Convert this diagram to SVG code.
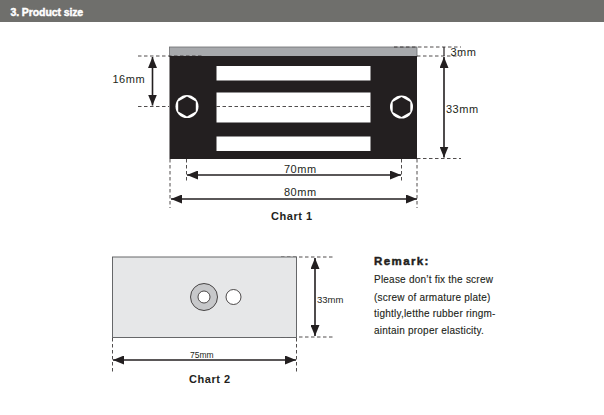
<svg xmlns="http://www.w3.org/2000/svg" width="604" height="415" viewBox="0 0 604 415">
<style>
text{font-family:"Liberation Sans",Arial,sans-serif;fill:#231f20}
.d{font-size:11px;letter-spacing:.5px}
.h{font-weight:bold;font-size:11px;letter-spacing:.55px}
.r{font-size:10px;letter-spacing:.22px;stroke:#231f20;stroke-width:.12}
.dash{fill:none;stroke:#231f20;stroke-width:.8;stroke-dasharray:3.500 2.500}
.dim{fill:none;stroke:#231f20;stroke-width:1.600;marker-start:url(#a);marker-end:url(#a)}
.slot{fill:#fff}
</style>
<defs>
<marker id="a" viewBox="0 0 11 9" refX="11" refY="4.500" markerUnits="userSpaceOnUse" markerWidth="11" markerHeight="9" orient="auto-start-reverse"><path d="M0 0L11 4.500L0 9Z" fill="#231f20"/></marker>
</defs>
<rect width="604" height="415" fill="#fff"/>
<g id="header">
<rect x="0" y="0" width="604" height="22" fill="#6f6f6c"/>
<text x="10.500" y="16" style="fill:#fff;font-size:10.500px;font-weight:bold;letter-spacing:-.1px;stroke:#fff;stroke-width:.45">3. Product size</text>
</g>
<g id="chart1-body">
<rect x="169.500" y="47" width="247.500" height="9.500" fill="#a7a9ac" stroke="#6d6e71" stroke-width=".8"/>
<rect x="169.500" y="56" width="247.500" height="103" fill="#231f20"/>
<rect class="slot" x="216.500" y="66" width="154" height="14.500"/>
<rect class="slot" x="216.500" y="92.500" width="154" height="30"/>
<rect class="slot" x="216.500" y="136.500" width="154" height="14.500"/>
</g>
<g id="bolt-left">
<circle cx="187" cy="106.500" r="11.500" fill="#fff"/>
<polygon fill="#231f20" points="187,96.400 195.800,101.400 195.800,111.600 187,116.600 178.200,111.600 178.200,101.400"/>
</g>
<g id="bolt-right">
<circle cx="401.500" cy="107" r="11.500" fill="#fff"/>
<polygon fill="#231f20" points="401.500,96.900 410.300,101.900 410.300,112.100 401.500,117.100 392.700,112.100 392.700,101.900"/>
</g>
<g id="connectors">
<path class="dash" d="M138 56H203M138 106.500H169M216.500 106.500H370.500M394 47H461M417 56H461M417 158.500H461"/>
<path class="dash" d="M186.500 159V181M401.500 159V181M170 159V208M417 159V208"/>
<path class="dim" d="M152.500 57V105.500"/>
<path class="dim" d="M444 57V157.500"/>
<path d="M444 47V56" fill="none" stroke="#231f20" stroke-width="1.200"/>
<path class="dim" d="M187 175H401"/>
<path class="dim" d="M171 199H417"/>
<path class="dash" d="M281 257H335M281 337H335M112.500 338V372M296.500 338V372"/>
<path class="dim" d="M315 258V336"/>
<path class="dim" d="M113 360H296"/>
</g>
<g id="dim-labels">
<text class="d" x="112.500" y="83">16mm</text>
<text class="d" x="450.500" y="56">3mm</text>
<text class="d" x="446" y="113">33mm</text>
<text class="d" x="284" y="173">70mm</text>
<text class="d" x="284" y="196">80mm</text>
<text class="h" x="271" y="220">Chart 1</text>
<text x="317" y="303" style="font-size:9.500px">33mm</text>
<text x="190" y="358" style="font-size:8.500px">75mm</text>
<text class="h" x="189" y="383">Chart 2</text>
</g>
<g id="chart2-body">
<rect x="112.500" y="257" width="184" height="80.500" fill="#e6e7e8" stroke="#58595b" stroke-width=".9"/>
<circle cx="204" cy="297" r="13.500" fill="#c7c8ca" stroke="#231f20" stroke-width=".8"/>
<circle cx="204" cy="297" r="6" fill="#fff" stroke="#231f20" stroke-width=".8"/>
<circle cx="233.500" cy="297" r="7.500" fill="#fff" stroke="#231f20" stroke-width=".8"/>
</g>
<g id="remark">
<text x="374" y="265" style="font-size:11.500px;font-weight:bold;letter-spacing:1.400px;stroke:#231f20;stroke-width:.45">Remark:</text>
<text class="r" x="374" y="283">Please don’t fix the screw</text>
<text class="r" x="374" y="300.500">(screw of armature plate)</text>
<text class="r" x="374" y="317">tightly,letthe rubber ringm-</text>
<text class="r" x="374" y="334">aintain proper elasticity.</text>
</g>
</svg>
